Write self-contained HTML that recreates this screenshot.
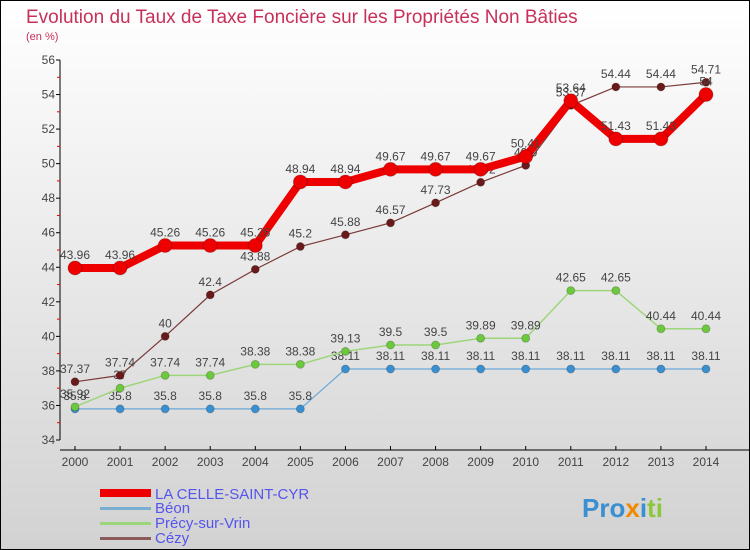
<!DOCTYPE html>
<html><head><meta charset="utf-8"><style>
body{margin:0;width:750px;height:550px;overflow:hidden;font-family:"Liberation Sans",sans-serif}
svg{display:block}
</style></head><body>
<svg width="750" height="550" xmlns="http://www.w3.org/2000/svg">
<defs><linearGradient id="bg" x1="0" y1="0" x2="0" y2="1"><stop offset="0" stop-color="#ffffff"/><stop offset="1" stop-color="#d2d2d2"/></linearGradient></defs>
<rect x="0.5" y="0.5" width="749" height="549" fill="url(#bg)" stroke="#000"/>
<text x="26" y="23" font-size="19" fill="#c8305a">Evolution du Taux de Taxe Foncière sur les Propriétés Non Bâties</text>
<text x="26" y="40" font-size="11" fill="#c8305a">(en %)</text>
<g id="axes"></g>
<g id="series"></g>
<g>
<rect x="100" y="489" width="51" height="8" fill="#e00"/>
<text x="155" y="499" font-size="15" fill="#5555ee">LA CELLE-SAINT-CYR</text>
<rect x="100" y="507" width="51" height="3" fill="#7aaed0"/>
<text x="155" y="513" font-size="15" fill="#5555ee">Béon</text>
<rect x="100" y="522" width="51" height="3" fill="#9dd67a"/>
<text x="155" y="528" font-size="15" fill="#5555ee">Précy-sur-Vrin</text>
<rect x="100" y="537" width="51" height="3" fill="#8b5a5a"/>
<text x="155" y="543" font-size="15" fill="#5555ee">Cézy</text>
</g>
<text x="582" y="517" font-size="26" font-weight="bold" fill="#3a8fd0">Pro<tspan fill="#f08a00">x</tspan><tspan fill="#3a8fd0">i</tspan><tspan fill="#8cc83c">ti</tspan></text>
</svg>
<script>
const years=[2000,2001,2002,2003,2004,2005,2006,2007,2008,2009,2010,2011,2012,2013,2014];
const yTicks=[34,36,38,40,42,44,46,48,50,52,54,56];
const celle=[43.96,43.96,45.26,45.26,45.26,48.94,48.94,49.67,49.67,49.67,50.41,53.64,51.43,51.43,54];
const beon=[35.8,35.8,35.8,35.8,35.8,35.8,38.11,38.11,38.11,38.11,38.11,38.11,38.11,38.11,38.11];
const precy=[35.92,37,37.74,37.74,38.38,38.38,39.13,39.5,39.5,39.89,39.89,42.65,42.65,40.44,40.44];
const cezy=[37.37,37.74,40,42.4,43.88,45.2,45.88,46.57,47.73,48.92,49.9,53.37,54.44,54.44,54.71];
const NS="http://www.w3.org/2000/svg";
const X=i=>75+i*(706-75)/14;
const Y=v=>440-(v-34)*(380/22);
function mk(tag,attrs,parent,txt){const e=document.createElementNS(NS,tag);for(const k in attrs)e.setAttribute(k,attrs[k]);if(txt!==undefined)e.textContent=txt;parent.appendChild(e);return e;}
const ax=document.getElementById('axes');
let e=mk('line',{x1:60,y1:60,x2:60,y2:440,stroke:'#000'},ax);


e=mk('line',{x1:60,y1:450,x2:750,y2:450,stroke:'#000'},ax);


yTicks.forEach((t,i)=>{
  mk('line',{x1:56,y1:Y(t),x2:60,y2:Y(t),stroke:'#000'},ax);
  if(i<yTicks.length-1){mk('line',{x1:57,y1:Y(t+1),x2:60,y2:Y(t+1),stroke:'#e00'},ax);}
  const l=mk('text',{x:55,y:Y(t)+4,'font-size':12,fill:'#444','text-anchor':'end'},ax,String(t));
  
  
});
years.forEach((yr,i)=>{
  mk('line',{x1:X(i),y1:446,x2:X(i),y2:450,stroke:'#000'},ax);
  const l=mk('text',{x:X(i),y:466,'font-size':12,fill:'#444','text-anchor':'middle'},ax,String(yr));
  
  
});
const sg=document.getElementById('series');
function series(vals,name,color,w,r,dot){
  const g=mk('g',{},sg);
  
  
  const p=mk('polyline',{points:vals.map((v,i)=>X(i)+','+Y(v)).join(' '),fill:'none',stroke:color,'stroke-width':w},g);
  
  
  vals.forEach((v,i)=>{
    const c=mk('circle',{cx:X(i),cy:Y(v),r:r,fill:dot,stroke:'rgba(0,0,0,0.2)'},g);
    
    
    const t=mk('text',{x:X(i),y:Y(v)-9,'font-size':12,fill:'#444','text-anchor':'middle'},g,String(v));
    
    
  });
}
series(beon,'beon','#6aa8d8',1.2,4,'#3a8fd0');
series(precy,'precy','#9dd67a',1.5,4,'#6cc83c');
series(cezy,'cezy','#7a3a3a',1.2,4,'#6a1a1a');
series(celle,'celle','#e00',8,7,'#e00');
</script>
</body></html>
